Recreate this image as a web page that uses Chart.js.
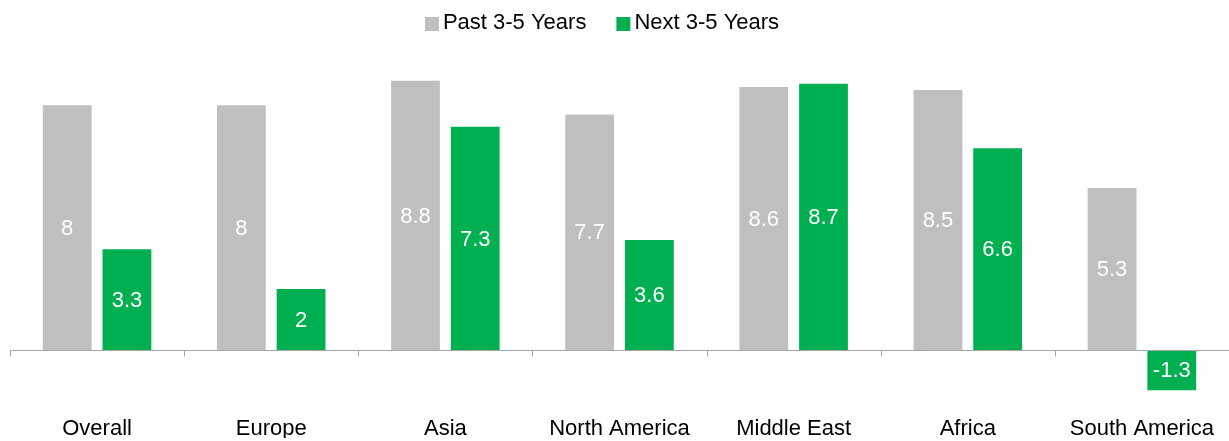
<!DOCTYPE html>
<html>
<head>
<meta charset="utf-8">
<script src="https://cdn.jsdelivr.net/npm/chart.js@4"></script>
<style>
  html, body { margin: 0; padding: 0; background: #fff; }
  #wrap { width: 1229px; height: 441px; }
</style>
</head>
<body>
<div id="wrap"><canvas id="chartRegiones"></canvas></div>
<script>
const regiones = ['Overall', 'Europe', 'Asia', 'North America', 'Middle East', 'Africa', 'South America'];
const pasado = [8, 8, 8.8, 7.7, 8.6, 8.5, 5.3];
const proximo = [3.3, 2, 7.3, 3.6, 8.7, 6.6, -1.3];

const gris = '#BFBFBF';
const verde = '#00B050';
const fuente = "'Liberation Sans', Arial, sans-serif";

// eje en el cero con marcas entre categorias
const ejeCero = {
  id: 'ejeCero',
  afterDatasetsDraw(chart) {
    const { ctx, chartArea, scales } = chart;
    const y0 = Math.round(scales.y.getPixelForValue(0)) + 0.5;
    ctx.save();
    ctx.strokeStyle = '#A6A6A6';
    ctx.lineWidth = 1;
    ctx.beginPath();
    ctx.moveTo(chartArea.left, y0);
    ctx.lineTo(chartArea.right, y0);
    const paso = (chartArea.right - chartArea.left) / regiones.length;
    for (let i = 0; i <= regiones.length; i++) {
      const x = Math.round(chartArea.left + i * paso) + 0.5;
      ctx.moveTo(x, y0);
      ctx.lineTo(x, y0 + 6);
    }
    ctx.stroke();
    ctx.restore();
  }
};

// etiquetas blancas en el centro de cada barra
const etiquetas = {
  id: 'etiquetas',
  afterDatasetsDraw(chart) {
    const { ctx } = chart;
    ctx.save();
    ctx.fillStyle = '#fff';
    ctx.font = '22px ' + fuente;
    ctx.textAlign = 'center';
    ctx.textBaseline = 'middle';
    chart.data.datasets.forEach((ds, i) => {
      chart.getDatasetMeta(i).data.forEach((bar, j) => {
        const p = bar.getProps(['x', 'y', 'base'], true);
        ctx.fillText(String(ds.data[j]), p.x, (p.y + p.base) / 2 + 1);
      });
    });
    ctx.restore();
  }
};

// leyenda arriba, estilo Excel (cuadro pegado al texto)
const leyenda = {
  id: 'leyenda',
  afterDraw(chart) {
    const { ctx } = chart;
    const caja = 14, hueco = 4, separa = 30, centro = 602, yMed = 23;
    ctx.save();
    ctx.font = '22px ' + fuente;
    ctx.textBaseline = 'middle';
    const items = chart.data.datasets.map(ds => ({
      texto: ds.label, color: ds.backgroundColor, ancho: ctx.measureText(ds.label).width
    }));
    let total = items.reduce((s, it) => s + caja + hueco + it.ancho, 0) + separa * (items.length - 1);
    let x = centro - total / 2;
    items.forEach(it => {
      ctx.fillStyle = it.color;
      ctx.fillRect(x, yMed - caja / 2 + 1, caja, caja);
      x += caja + hueco;
      ctx.fillStyle = '#000';
      ctx.fillText(it.texto, x, yMed);
      x += it.ancho + separa;
    });
    ctx.restore();
  }
};

new Chart(document.getElementById('chartRegiones'), {
  type: 'bar',
  data: {
    labels: regiones,
    datasets: [{
      label: 'Past 3-5 Years',
      data: pasado,
      backgroundColor: gris,
      borderWidth: 0,
      barPercentage: 0.817,
      categoryPercentage: 0.686
    }, {
      label: 'Next 3-5 Years',
      data: proximo,
      backgroundColor: verde,
      borderWidth: 0,
      barPercentage: 0.817,
      categoryPercentage: 0.686
    }]
  },
  options: {
    responsive: true,
    maintainAspectRatio: false,
    animation: false,
    layout: { padding: { left: 10, right: -5, top: 44, bottom: 3 } },
    plugins: {
      legend: { display: false },
      tooltip: { enabled: false }
    },
    scales: {
      x: {
        grid: { display: false },
        border: { display: false },
        ticks: {
          color: '#000',
          padding: -4,
          maxRotation: 0,
          autoSkip: false,
          font: { family: fuente, size: 22 }
        }
      },
      y: {
        display: false,
        min: -2,
        max: 10
      }
    }
  },
  plugins: [ejeCero, etiquetas, leyenda]
});
</script>
</body>
</html>
